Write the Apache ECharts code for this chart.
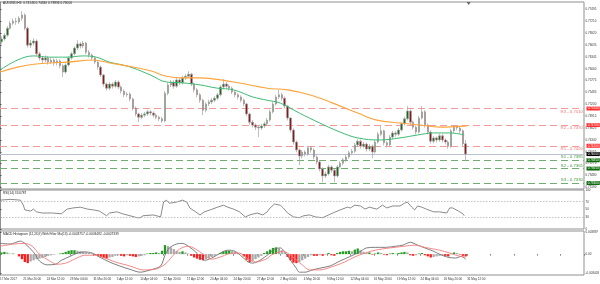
<!DOCTYPE html>
<html><head><meta charset="utf-8">
<script src="https://cdn.jsdelivr.net/npm/echarts/dist/echarts.min.js"></script>
<style>html,body{margin:0;padding:0;background:#fff}#c{width:600px;height:284px}</style>
</head><body><div id="c"></div>
<script>
const mainTitle = 'AUDUSD,H4  0.74246 0.74340 0.73836 0.74000';
const rsiTitle = 'RSI(14) 33.6787';
const macdTitle = 'MACD Histogram (12,26,9) With Filter Ma(13) -0.0003757 -0.0003482 -0.0007339';
const xLabels = ['17 Mar 2017','21 Mar 20:00','24 Mar 12:00','29 Mar 04:00','31 Mar 20:00','5 Apr 12:00','10 Apr 04:00','12 Apr 20:00','17 Apr 12:00','20 Apr 04:00','24 Apr 20:00','27 Apr 12:00','2 May 04:00','4 May 20:00','9 May 12:00','12 May 04:00','16 May 20:00','19 May 12:00','24 May 04:00','26 May 20:00','31 May 12:00'];
const priceTicks = [0.77495,0.77210,0.76920,0.76635,0.76345,0.76060,0.75775,0.75485,0.75200,0.74915,0.74625,0.74340,0.74055,0.73770,0.73480,0.73190];
const rsiTicks = [0,30,50,70,100];
const macdTicks = [-0.003403,0,0.003897];
const macdTickLabels = ['-0.003403','0.00','0.003897'];
const resistances = [['R3',0.7510],['R2',0.7470],['R1',0.7420]];
const supports = [['S1',0.7385],['S2',0.7365],['S3',0.7330]];
const lastPrice = 0.74000;
// candles (each = two H4 bars), [open, close, low, high] in pips (x1e-4)
const candlesPips = [
[7671,7678,7666,7684],[7678,7687,7674,7692],[7687,7704,7683,7709],[7704,7716,7700,7722],[7716,7721,7711,7727],
[7721,7719,7712,7729],[7719,7728,7714,7733],[7728,7736,7722,7745],[7736,7704,7699,7740],[7704,7663,7657,7708],
[7663,7668,7656,7676],[7668,7673,7662,7680],[7673,7642,7637,7677],[7642,7632,7626,7647],[7632,7627,7620,7637],
[7627,7632,7622,7638],[7632,7622,7616,7636],[7622,7627,7617,7633],[7627,7620,7613,7631],[7620,7625,7614,7630],
[7625,7613,7607,7629],[7613,7598,7586,7617],[7598,7615,7594,7619],[7615,7632,7611,7636],[7632,7642,7628,7647],
[7642,7656,7638,7660],[7656,7666,7651,7675],[7666,7661,7655,7670],[7661,7668,7656,7673],[7668,7646,7641,7671],
[7646,7639,7633,7651],[7639,7632,7627,7643],[7632,7622,7617,7636],[7622,7610,7604,7626],[7610,7591,7586,7614],
[7591,7569,7563,7594],[7569,7559,7553,7573],[7559,7569,7555,7574],[7569,7564,7558,7573],[7564,7574,7560,7579],
[7574,7562,7557,7578],[7562,7552,7546,7566],[7552,7543,7537,7556],[7543,7545,7538,7550],[7545,7533,7527,7549],
[7533,7511,7505,7536],[7511,7497,7491,7515],[7497,7489,7477,7500],[7489,7494,7484,7499],[7494,7497,7489,7502],
[7497,7502,7492,7507],[7502,7499,7493,7506],[7499,7494,7488,7503],[7494,7489,7484,7498],[7489,7485,7480,7493],
[7485,7480,7475,7490],[7480,7547,7477,7552],[7547,7567,7542,7572],[7567,7574,7562,7579],[7574,7564,7558,7578],
[7564,7579,7560,7584],[7579,7572,7566,7583],[7572,7584,7568,7589],[7584,7588,7579,7593],[7588,7593,7583,7600],
[7593,7569,7564,7596],[7569,7555,7549,7573],[7555,7543,7537,7559],[7543,7530,7524,7547],[7530,7506,7494,7534],
[7506,7521,7501,7525],[7521,7526,7516,7531],[7526,7530,7521,7535],[7530,7535,7525,7540],[7535,7543,7530,7548],
[7543,7562,7539,7567],[7562,7569,7557,7581],[7569,7564,7558,7574],[7564,7559,7553,7568],[7559,7550,7545,7563],
[7550,7543,7537,7554],[7543,7538,7532,7547],[7538,7530,7525,7542],[7530,7521,7515,7534],[7521,7497,7491,7524],
[7497,7477,7471,7500],[7477,7470,7464,7482],[7470,7465,7458,7474],[7465,7463,7441,7469],[7463,7468,7458,7473],
[7468,7473,7463,7478],[7473,7482,7469,7487],[7482,7502,7478,7507],[7502,7521,7498,7526],[7521,7538,7517,7543],
[7538,7543,7533,7555],[7543,7535,7529,7548],[7535,7516,7510,7539],[7516,7487,7481,7519],[7487,7458,7452,7490],
[7458,7429,7423,7462],[7429,7410,7404,7433],[7410,7395,7373,7414],[7395,7405,7390,7410],[7405,7400,7394,7409],
[7400,7415,7396,7420],[7415,7410,7404,7419],[7410,7393,7387,7414],[7393,7381,7375,7397],[7381,7364,7358,7385],
[7364,7347,7332,7368],[7347,7352,7342,7358],[7352,7369,7348,7374],[7369,7361,7355,7373],[7361,7347,7332,7365],
[7347,7369,7343,7374],[7369,7378,7365,7383],[7378,7386,7373,7391],[7386,7393,7381,7398],[7393,7403,7389,7408],
[7403,7407,7398,7412],[7407,7422,7403,7427],[7422,7431,7418,7436],[7431,7419,7413,7435],[7419,7424,7414,7429],
[7424,7412,7406,7428],[7412,7419,7407,7424],[7419,7405,7390,7423],[7405,7429,7401,7434],[7429,7448,7425,7453],
[7448,7456,7443,7468],[7456,7427,7421,7459],[7427,7422,7416,7431],[7422,7441,7418,7446],[7441,7451,7437,7456],
[7451,7448,7442,7455],[7448,7458,7444,7463],[7458,7473,7454,7478],[7473,7485,7469,7490],[7485,7504,7481,7516],
[7504,7477,7471,7508],[7477,7465,7459,7481],[7465,7453,7447,7469],[7453,7487,7449,7492],[7487,7502,7483,7516],
[7502,7470,7464,7506],[7470,7453,7447,7474],[7453,7431,7425,7457],[7431,7439,7426,7444],[7439,7434,7428,7443],
[7434,7444,7430,7449],[7444,7434,7428,7448],[7434,7429,7423,7438],[7429,7419,7413,7433],[7419,7456,7415,7461],
[7456,7465,7451,7470],[7465,7463,7457,7469],[7463,7456,7450,7467],[7456,7425,7419,7460],[7425,7400,7384,7434]
];
// moving averages: [H4 bar index, pips]
const maGreen = [[0,7603],[12,7627],[23,7637],[34,7634],[46,7634],[57,7637],[66,7634],[75,7622],[84,7615],[91,7608],[103,7591],[114,7574],[125,7572],[137,7567],[149,7559],[160,7555],[173,7538],[183,7530],[192,7523],[205,7499],[219,7475],[233,7453],[245,7439],[260,7434],[274,7439],[286,7446],[297,7451],[308,7451],[318,7446]];
const maOrange = [[0,7598],[12,7610],[23,7617],[34,7620],[46,7622],[64,7627],[75,7620],[87,7613],[103,7601],[114,7588],[125,7584],[137,7584],[160,7574],[183,7559],[197,7555],[212,7543],[228,7523],[245,7499],[258,7482],[274,7475],[288,7470],[301,7465],[320,7468]];
// RSI(14): [H4 bar index, value]
const rsi = [[0,74],[7,76],[14,74],[16,61],[17,49],[21,46],[23,51],[25,44],[29,41],[36,41],[42,39],[43,44],[46,51],[50,54],[55,56],[57,54],[60,51],[64,49],[68,46],[73,34],[75,41],[80,44],[84,39],[89,34],[94,29],[96,29],[98,34],[105,36],[110,31],[111,29],[112,69],[114,74],[116,66],[121,69],[125,74],[128,69],[130,54],[134,44],[137,36],[140,44],[144,49],[149,56],[153,61],[156,56],[160,51],[164,44],[168,31],[171,36],[176,41],[180,36],[183,44],[185,54],[188,64],[192,61],[194,54],[197,41],[201,31],[205,29],[208,34],[212,36],[216,31],[221,29],[225,36],[228,41],[233,49],[238,56],[240,54],[243,61],[247,59],[250,51],[253,56],[258,51],[262,61],[265,54],[269,59],[274,59],[277,66],[279,69],[282,56],[284,49],[286,59],[289,56],[292,51],[297,44],[301,44],[306,41],[308,54],[310,54],[314,46],[317,39],[318,34]];
// MACD lines: [H4 bar index, value x1e-4]
const macdMain = [[0,19],[7,18],[14,23],[17,19],[21,9],[24,0],[27,-12],[32,-19],[38,-18],[42,-11],[48,-4],[53,2],[58,4],[63,2],[68,-5],[75,-14],[82,-21],[89,-27],[96,-32],[103,-28],[110,-21],[113,-2],[116,11],[121,18],[125,19],[130,12],[134,4],[137,-5],[140,-11],[145,-7],[151,2],[156,7],[161,5],[166,-5],[170,-14],[173,-16],[178,-11],[184,0],[188,9],[192,11],[195,4],[199,-11],[203,-25],[205,-32],[209,-32],[214,-28],[219,-25],[226,-21],[233,-12],[240,-4],[247,5],[251,11],[257,12],[264,12],[271,14],[276,16],[281,21],[286,16],[291,11],[297,5],[301,0],[306,-5],[312,-7],[316,-4],[319,-9]];
const macdSignal = [[0,14],[10,18],[17,19],[22,14],[27,0],[34,-12],[39,-18],[45,-16],[51,-9],[58,-2],[65,-2],[72,-7],[79,-14],[89,-21],[98,-28],[106,-27],[113,-18],[118,-4],[123,9],[129,14],[134,9],[139,0],[145,-9],[152,-4],[159,2],[164,2],[169,-7],[175,-14],[182,-9],[187,0],[194,5],[200,-4],[207,-19],[212,-28],[219,-28],[229,-21],[236,-14],[243,-5],[250,2],[257,7],[267,11],[277,14],[284,16],[291,12],[301,7],[308,2],[315,-4],[319,-5]];
// MACD histogram per candle, x1e-4
const macdHist = [3,4,3,1,1,0,-4,-9,-14,-16,-13,-11,-9,-8,-7,-5,-3,-2,-1,0,1,2,4,6,7,7,6,5,4,3,2,1,-1,-3,-5,-7,-8,-6,-5,-3,-2,-3,-4,-2,-3,-4,-5,-4,-3,-2,1,2,2,3,2,6,16,14,12,9,6,4,5,3,1,-3,-6,-8,-10,-11,-9,-7,-5,-3,-1,2,5,6,6,5,4,2,1,-4,-10,-14,-12,-9,-6,-3,2,5,8,11,12,10,7,3,-5,-11,-15,-16,-14,-11,-8,-5,-2,-3,-3,-2,-3,-1,2,-2,-3,2,4,5,5,6,5,8,10,7,4,2,3,-1,1,3,2,-1,-2,1,2,1,2,3,4,3,-2,-3,-2,1,2,-2,-4,-6,-5,-4,-3,-2,-3,-4,1,3,2,-1,-3,-4];

const FONT = 'Liberation Sans, Arial, sans-serif';
const toPrice = p => p / 10000;
const candleData = candlesPips.map((c, j) => [2 * j + 1, toPrice(c[0]), toPrice(c[1]), toPrice(c[2]), toPrice(c[3])]);
const histData = macdHist.map((v, j) => [2 * j + 1, v / 10000]);
const histColor = i => {
  const v = macdHist[i], p = i > 0 ? macdHist[i - 1] : 0;
  if (v > 0 && v >= p) return '#1f9e1f';
  if (v < 0 && v <= p) return '#ff1a1a';
  return '#a9a9a9';
};
const PMIN = 0.73156, PMAX = 0.77672;

const pivotLine = (name, val, isR) => ({
  yAxis: val,
  lineStyle: {color: isR ? '#f39a9a' : '#6fae6f', type: [7, 4], width: 1},
  label: {show: true, position: isR ? 'insideEndBottom' : 'insideEndTop', formatter: name + ' - ' + val.toFixed(4),
    color: isR ? '#f07272' : '#3f943f', fontSize: 4.3, fontFamily: FONT, distance: 1}
});
const boxLine = (val, bg) => ({
  yAxis: val,
  lineStyle: {color: 'rgba(0,0,0,0)', width: 1},
  label: {show: true, position: 'end', formatter: val.toFixed(5), color: '#fff', backgroundColor: bg,
    fontSize: 3, fontFamily: FONT, padding: [0.6, 1.2, 0.4, 1.2], distance: 2.5}
});

const gridBase = {left: 0, right: 16, show: true, borderColor: '#8f8f8f', borderWidth: 1, containLabel: false, outerBoundsMode: 'none'};
const xAx = i => ({type: 'value', gridIndex: i, min: 0, max: 400, interval: 16,
  axisLine: {show: false}, splitLine: {show: false},
  axisTick: {show: i === 2, length: 1.5, lineStyle: {color: '#777'}},
  axisLabel: {show: i === 2, fontSize: 3, fontFamily: FONT, color: '#333', margin: 2.5, align: 'left',
    formatter: v => xLabels[v / 16] || ''}});
const yAx = (i, min, max, ticks, fmt) => ({type: 'value', gridIndex: i, position: 'right', min: min, max: max,
  axisLine: {show: true, lineStyle: {color: '#8f8f8f'}}, splitLine: {show: false},
  axisTick: {show: true, length: 1.5, customValues: ticks, lineStyle: {color: '#555'}},
  axisLabel: {fontSize: 3, fontFamily: FONT, color: '#333', margin: 1.5, customValues: ticks, formatter: fmt}});

const option = {
  animation: false,
  backgroundColor: '#fff',
  title: [
    {text: mainTitle, left: 3, top: 2, padding: 0, textStyle: {fontSize: 3.2, fontWeight: 'normal', color: '#222', fontFamily: FONT}},
    {text: rsiTitle, left: 3, top: 192, padding: 0, textStyle: {fontSize: 3.2, fontWeight: 'normal', color: '#222', fontFamily: FONT}},
    {text: macdTitle, left: 3, top: 233, padding: 0, textStyle: {fontSize: 3.2, fontWeight: 'normal', color: '#222', fontFamily: FONT}}
  ],
  grid: [
    Object.assign({}, gridBase, {top: 2, height: 187}),
    Object.assign({}, gridBase, {top: 190, height: 39}),
    Object.assign({}, gridBase, {top: 231, height: 44})
  ],
  xAxis: [xAx(0), xAx(1), xAx(2)],
  yAxis: [
    yAx(0, PMIN, PMAX, priceTicks, v => v.toFixed(5)),
    yAx(1, 0, 100, rsiTicks, v => String(v)),
    yAx(2, -0.0037, 0.0041, macdTicks, v => macdTickLabels[macdTicks.indexOf(v)] || '')
  ],
  series: [
    {type: 'line', xAxisIndex: 0, yAxisIndex: 0, data: maOrange.map(d => [d[0], toPrice(d[1])]), smooth: 0.4, showSymbol: false, symbol: 'none',
      lineStyle: {color: 'rgba(0,0,0,0)', width: 0}, z: 1,
      markLine: {silent: true, symbol: 'none', animation: false, precision: 5, z: 1, data: [
        ...resistances.map(r => pivotLine(r[0], r[1], true)),
        ...supports.map(s => pivotLine(s[0], s[1], false)),
        {yAxis: lastPrice, lineStyle: {color: '#b9c1d3', type: 'solid', width: 1}, label: {show: false}},
        ...resistances.map(r => boxLine(r[1], '#ff2a2a')),
        ...supports.map(s => boxLine(s[1], '#0d6b0d')),
        boxLine(lastPrice, '#000')
      ]},
      markPoint: {silent: true, animation: false, data: [{coord: [321, PMAX], symbol: 'triangle', symbolRotate: 180, symbolSize: [4, 3], symbolOffset: [0, 1.5], itemStyle: {color: '#666'}, label: {show: false}}]}
    },
    {type: 'candlestick', xAxisIndex: 0, yAxisIndex: 0, data: candleData, barWidth: 2, z: 3,
      itemStyle: {color: '#1d6a1d', color0: '#8a1a1a', borderColor: '#a3a3a3', borderColor0: '#a3a3a3', borderWidth: 0.7}},
    {type: 'line', xAxisIndex: 0, yAxisIndex: 0, data: maGreen.map(d => [d[0], toPrice(d[1])]), smooth: 0.4, showSymbol: false, symbol: 'none',
      lineStyle: {color: '#3dbb74', width: 1}, z: 4},
    {type: 'line', xAxisIndex: 0, yAxisIndex: 0, data: maOrange.map(d => [d[0], toPrice(d[1])]), smooth: 0.4, showSymbol: false, symbol: 'none',
      lineStyle: {color: '#ffa33a', width: 1.1}, z: 4},
    {type: 'line', xAxisIndex: 1, yAxisIndex: 1, data: rsi, showSymbol: false, symbol: 'none',
      lineStyle: {color: '#6d6d6d', width: 0.8},
      markLine: {silent: true, symbol: 'none', animation: false, label: {show: false},
        lineStyle: {color: '#b5b5b5', type: [1.5, 1.5], width: 0.8}, data: [{yAxis: 70}, {yAxis: 30}]}},
    {type: 'bar', xAxisIndex: 2, yAxisIndex: 2, data: histData, barWidth: 2.3,
      itemStyle: {color: p => histColor(p.dataIndex)}},
    {type: 'line', xAxisIndex: 2, yAxisIndex: 2, data: macdMain.map(d => [d[0], d[1] / 10000]), smooth: 0.3, showSymbol: false, symbol: 'none',
      lineStyle: {color: '#6f6f6f', width: 0.9}},
    {type: 'line', xAxisIndex: 2, yAxisIndex: 2, data: macdSignal.map(d => [d[0], d[1] / 10000]), smooth: 0.3, showSymbol: false, symbol: 'none',
      lineStyle: {color: '#f47c7c', width: 0.9}}
  ]
};
const chart = echarts.init(document.getElementById('c'), null, {renderer: 'canvas'});
chart.setOption(option);
</script>
</body></html>
